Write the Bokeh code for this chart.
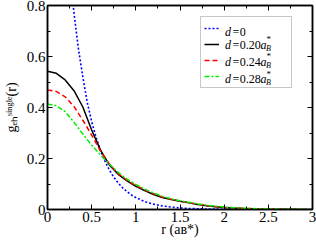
import math
from bokeh.plotting import figure
from bokeh.models import FixedTicker, LinearAxis, Range1d, Label, Legend, LegendItem
from bokeh.core.properties import value
from bokeh.embed import file_html
from bokeh.resources import INLINE

# ---------------- data ----------------
r_grid = [0.0, 0.1, 0.2, 0.3, 0.4, 0.5, 0.6, 0.7, 0.8, 0.9, 1.0,
          1.1, 1.2, 1.3, 1.4, 1.5, 1.6, 1.7, 1.8, 1.9, 2.0,
          2.1, 2.2, 2.3, 2.4, 2.5, 2.6, 2.7, 2.8, 2.9, 3.0]
g_d020 = [0.542, 0.534, 0.508, 0.466, 0.402, 0.312, 0.233, 0.175, 0.138, 0.112, 0.091,
          0.074, 0.059, 0.047, 0.039, 0.032, 0.026, 0.020, 0.015, 0.011, 0.008,
          0.006, 0.004, 0.003, 0.002, 0.0014, 0.001, 0.0007, 0.0005, 0.0003, 0.0002]
g_d024 = [0.469, 0.463, 0.442, 0.404, 0.350, 0.292, 0.229, 0.178, 0.141, 0.115, 0.094,
          0.077, 0.062, 0.049, 0.040, 0.033, 0.027, 0.021, 0.016, 0.012, 0.009,
          0.007, 0.005, 0.0035, 0.0025, 0.0018, 0.0012, 0.0008, 0.0006, 0.0004, 0.0003]
g_d028 = [0.414, 0.407, 0.384, 0.342, 0.296, 0.252, 0.214, 0.178, 0.146, 0.119, 0.098,
          0.080, 0.065, 0.052, 0.042, 0.034, 0.028, 0.022, 0.017, 0.013, 0.010,
          0.007, 0.0055, 0.004, 0.003, 0.002, 0.0015, 0.001, 0.0007, 0.0005, 0.0004]
r_d0 = [0.2, 0.25, 0.3, 0.35, 0.4, 0.45, 0.5, 0.55, 0.6, 0.65, 0.7, 0.75, 0.8,
        0.85, 0.9, 0.95, 1.0, 1.1, 1.2, 1.3, 1.4, 1.5, 1.6, 1.8, 2.0, 2.2, 2.5, 3.0]
g_d0 = [1.15, 0.94, 0.77, 0.63, 0.52, 0.42, 0.345, 0.283, 0.232, 0.19, 0.155, 0.127, 0.104,
        0.085, 0.070, 0.057, 0.047, 0.031, 0.021, 0.014, 0.0094, 0.0063, 0.0042, 0.0019,
        0.0009, 0.0004, 0.0001, 0.00002]

x_ticks = [0, 0.5, 1, 1.5, 2, 2.5, 3]
x_tick_labels = ["0", "0.5", "1", "1.5", "2", "2.5", "3"]
x_minor = [0.25, 0.75, 1.25, 1.75, 2.25, 2.75]
y_ticks = [0, 0.2, 0.4, 0.6, 0.8]
y_tick_labels = ["0", "0.2", "0.4", "0.6", "0.8"]
y_minor = [0.1, 0.3, 0.5, 0.7]
legend_numbers = ["0", "0.20", "0.24", "0.28"]
x_title = "r (a\u0299*)"
y_title = "g\u2091\u2095\u02e2\u2071\u207f\u1d4d\u02e1\u1d49(r)"

# ---------------- layout (pixels) ----------------
W, H = 316, 241
FL, FR, FT, FB = 44, 312, 5, 209
X0, X1, Y0, Y1 = 0.0, 3.0, 0.0, 0.8
SERIF = "Liberation Serif"


def dx(px):
    return X0 + (px - FL) / (FR - FL) * (X1 - X0)


def dy(py):
    return Y0 + (FB - py) / (FB - FT) * (Y1 - Y0)


p = figure(width=W, height=H, output_backend="svg", toolbar_location=None,
           x_range=Range1d(X0, X1), y_range=Range1d(Y0, Y1),
           min_border_left=FL, min_border_right=W - FR,
           min_border_top=FT, min_border_bottom=H - FB)
p.grid.visible = False
p.outline_line_color = "black"
p.outline_line_width = 1.5
p.background_fill_color = "white"
p.border_fill_color = "white"

x_bottom = p.xaxis[0]
y_left = p.yaxis[0]


def style_axis(ax, ticks, minor, labels, show_labels):
    ax.ticker = FixedTicker(ticks=ticks, minor_ticks=minor)
    ax.major_tick_in = 5
    ax.major_tick_out = 0
    ax.minor_tick_in = 3
    ax.minor_tick_out = 0
    ax.axis_line_width = 1.5
    ax.axis_line_color = "black"
    ax.major_tick_line_color = "black"
    ax.minor_tick_line_color = "black"
    ax.major_tick_line_width = 1
    ax.minor_tick_line_width = 1
    ax.major_label_text_font = SERIF
    ax.major_label_text_color = "black"
    if show_labels:
        ax.major_label_overrides = {t: l for t, l in zip(ticks, labels)}
        ax.major_label_text_font_size = "15px"
        ax.major_label_standoff = 2
    else:
        ax.major_label_overrides = {t: "" for t in ticks}
        ax.major_label_text_font_size = "1px"
        ax.major_label_standoff = 0


style_axis(x_bottom, x_ticks, x_minor, x_tick_labels, True)
style_axis(y_left, y_ticks, y_minor, y_tick_labels, True)
top_ax = LinearAxis()
style_axis(top_ax, x_ticks, x_minor, x_tick_labels, False)
p.add_layout(top_ax, "above")
right_ax = LinearAxis()
style_axis(right_ax, y_ticks, y_minor, y_tick_labels, False)
p.add_layout(right_ax, "right")

# axis titles
x_bottom.axis_label = x_title
y_left.axis_label = y_title
for ax in (x_bottom, y_left):
    ax.axis_label_text_font = SERIF
    ax.axis_label_text_font_size = "14px"
    ax.axis_label_text_font_style = "normal"
    ax.axis_label_text_color = "black"
x_bottom.axis_label_standoff = -3
y_left.axis_label_standoff = 5

# ---------------- curves ----------------
r0 = p.line(r_d0, g_d0, line_color="#0000ff", line_width=1.6, line_dash="2 2")
r20 = p.line(r_grid, g_d020, line_color="black", line_width=1.5)
r24 = p.line(r_grid, g_d024, line_color="#ff0000", line_width=1.5, line_dash="5 3")
r28 = p.line(r_grid, g_d028, line_color="#00ee00", line_width=1.5, line_dash="5 2 2 2")

legend = Legend(items=[LegendItem(label=value(" "), renderers=[r]) for r in (r0, r20, r24, r28)],
                location=(197 - FL, FB - 88), orientation="vertical",
                padding=3, spacing=0, margin=0,
                label_height=16, glyph_height=16, glyph_width=15,
                label_standoff=5, label_width=64,
                label_text_font_size="1px",
                border_line_color="#909090", border_line_width=1,
                background_fill_alpha=0.0)
p.add_layout(legend)


def txt(s, px, py, size, style="normal"):
    p.add_layout(Label(x=dx(px), y=dy(py), text=s, text_font=SERIF,
                       text_font_size=f"{size}px", text_font_style=style,
                       text_color="black", text_align="left",
                       text_baseline="alphabetic", level="overlay"))


# legend texts
rows_base = [31.5, 44.0, 61.0, 78.5]
for i, (num, base) in enumerate(zip(legend_numbers, rows_base)):
    txt("d", 223.5, base, 12, "italic")
    txt("=", 231, base, 12)
    txt(num, 238.5, base, 12)
    if i > 0:
        txt("a", 259.5, base, 12, "italic")
        txt("*", 265.5, base - 5.5, 9)
        txt("B", 265, base + 3.5, 8, "italic")

open("out.html", "w").write(file_html(p, INLINE))
